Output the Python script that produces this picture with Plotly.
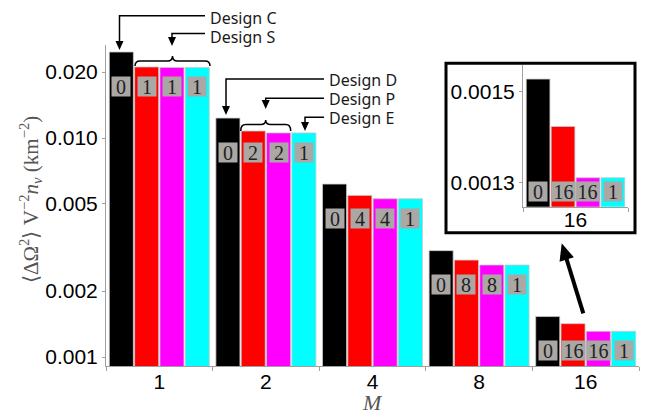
import math
import plotly.graph_objects as go

# ---- data ----
M_labels = ["1", "2", "4", "8", "16"]
design_black = [0.0247, 0.01233, 0.00616, 0.00306, 0.00153]
design_red = [0.0211, 0.01076, 0.00547, 0.00277, 0.00142]
design_magenta = [0.0210, 0.01055, 0.00528, 0.00263, 0.00131]
design_cyan = [0.0210, 0.01055, 0.00528, 0.00263, 0.00131]
count_black = [0, 0, 0, 0, 0]
count_red = [1, 2, 4, 8, 16]
count_magenta = [1, 2, 4, 8, 16]
count_cyan = [1, 1, 1, 1, 1]
y_tickvals = [0.001, 0.002, 0.005, 0.01, 0.02]
y_ticktext = ["0.001", "0.002", "0.005", "0.010", "0.020"]
inset_tickvals = [0.0013, 0.0015]
inset_ticktext = ["0.0013", "0.0015"]

series = [
    (design_black, count_black, "black"),
    (design_red, count_red, "#ff0000"),
    (design_magenta, count_magenta, "#ff00ff"),
    (design_cyan, count_cyan, "#00ffff"),
]

W, H = 651, 416
L, R, T, B = 106, 12, 45, 50
PW, PH = W - L - R, H - T - B


def PX(x):
    return (x - L) / PW


def PY(y):
    return (H - B - y) / PH


def P(x, y):
    return f"{PX(x):.5f},{PY(y):.5f}"


fig = go.Figure()
BARGAP = 0.05
for vals, cnts, col in series:
    fig.add_trace(go.Bar(x=M_labels, y=vals, marker=dict(color=col, line=dict(color="#c8c8c8", width=0.8)),
                         showlegend=False, hoverinfo="skip"))
# inset
for vals, cnts, col in series:
    fig.add_trace(go.Bar(x=[M_labels[-1]], y=[vals[-1]], xaxis="x2", yaxis="y2",
                         marker=dict(color=col, line=dict(color="#c8c8c8", width=0.8)),
                         showlegend=False, hoverinfo="skip"))

annotations = []
slot = (1 - BARGAP) / 4
label_bg = "#aaa7a5"
for i in range(len(M_labels)):
    gmin = min(s[0][i] for s in series)
    for j, (vals, cnts, col) in enumerate(series):
        txt = str(cnts[i])
        annotations.append(dict(
            x=i + (j - 1.5) * slot, y=math.log10(gmin), xref="x", yref="y",
            text=txt, showarrow=False, xanchor="center", yanchor="top", yshift=-9,
            font=dict(family="Liberation Serif", size=20, color="#222"),
            bgcolor=label_bg, borderpad=1, width=16 if len(txt) == 1 else 21, height=17))
# inset labels
gmin = min(s[0][-1] for s in series)
for j, (vals, cnts, col) in enumerate(series):
    txt = str(cnts[-1])
    annotations.append(dict(
        x=(j - 1.5) * slot, y=math.log10(gmin), xref="x2", yref="y2",
        text=txt, showarrow=False, xanchor="center", yanchor="top", yshift=-3,
        font=dict(family="Liberation Serif", size=20, color="#222"),
        bgcolor=label_bg, borderpad=1, width=16 if len(txt) == 1 else 21, height=17))

# axis titles
annotations.append(dict(
    x=PX(30), y=PY(200), xref="paper", yref="paper", showarrow=False, textangle=-90,
    xanchor="center", yanchor="middle",
    text="⟨ΔΩ<sup>2</sup>⟩ V<sup>−2</sup><i>n<sub>v</sub></i> (km<sup>−2</sup>)",
    font=dict(family="Liberation Serif", size=21, color="#555")))
annotations.append(dict(
    x=PX(372), y=PY(403), xref="paper", yref="paper", showarrow=False,
    xanchor="center", yanchor="middle",
    text="<i>M</i>", font=dict(family="Liberation Serif", size=22, color="#555")))

# callout texts
callouts = [("Design C", 208, 18), ("Design S", 208, 36.5), ("Design D", 327, 80.5),
            ("Design P", 327, 99.5), ("Design E", 327, 118.5)]
for txt, x, y in callouts:
    annotations.append(dict(x=PX(x), y=PY(y), xref="paper", yref="paper", showarrow=False,
                            xanchor="left", yanchor="middle", text=txt,
                            font=dict(family="Noto Sans", size=16, color="#1a1a1a")))

shapes = []
LINE = dict(color="black", width=1.5)


def arrow_head(xt, yt, dx, dy, length=9, half=4):
    bx, by = xt - dx * length, yt - dy * length
    px_, py_ = -dy, dx
    return (f"M {P(xt, yt)} L {P(bx + px_ * half, by + py_ * half)} "
            f"L {P(bx - px_ * half, by - py_ * half)} Z")


def elbow(x_text, y_line, x_down, y_tip):
    shapes.append(dict(type="path", xref="paper", yref="paper", line=LINE,
                       path=f"M {P(x_text, y_line)} L {P(x_down, y_line)} L {P(x_down, y_tip - 7)}"))
    shapes.append(dict(type="path", xref="paper", yref="paper", line=dict(width=0),
                       fillcolor="black", path=arrow_head(x_down, y_tip, 0, 1)))


def brace(x0, x1, y_end, y_line, y_tip, r=5):
    xm = (x0 + x1) / 2
    path = (f"M {P(x0, y_end)} Q {P(x0, y_line)} {P(x0 + r, y_line)} "
            f"L {P(xm - r, y_line)} Q {P(xm, y_line)} {P(xm, y_tip)} "
            f"Q {P(xm, y_line)} {P(xm + r, y_line)} L {P(x1 - r, y_line)} "
            f"Q {P(x1, y_line)} {P(x1, y_end)}")
    shapes.append(dict(type="path", xref="paper", yref="paper", line=LINE, path=path))


elbow(205, 15.7, 119.5, 50)
elbow(205, 33.5, 172, 46)
brace(135, 210, 66, 61, 56)
elbow(324, 79, 226, 115)
elbow(324, 98.3, 265.7, 109)
brace(240.7, 290.7, 131, 124.5, 120)
elbow(324, 117.3, 305, 131)

# big arrow to inset
tx, ty = 561.7, 243.3
sx, sy = 583.3, 313.3
dl = math.hypot(tx - sx, ty - sy)
ux, uy = (tx - sx) / dl, (ty - sy) / dl
shapes.append(dict(type="path", xref="paper", yref="paper", line=dict(color="black", width=4),
                   path=f"M {P(sx, sy)} L {P(tx - ux * 12, ty - uy * 12)}"))
shapes.append(dict(type="path", xref="paper", yref="paper", line=dict(width=0), fillcolor="black",
                   path=arrow_head(tx, ty, ux, uy, length=17, half=7.5)))

# inset box
shapes.append(dict(type="rect", xref="paper", yref="paper", x0=PX(446), x1=PX(635),
                   y0=PY(232.7), y1=PY(63.3), line=dict(color="black", width=3), layer="above"))

ymin = -3 - 9 / 219
ymax = -3 + 312 / 219
common = dict(showline=True, linecolor="#a0a0a0", linewidth=1, ticks="outside", tickcolor="#a0a0a0",
              showgrid=False, zeroline=False, automargin=False,
              tickfont=dict(family="Liberation Sans", size=21, color="black"))
fig.update_layout(
    width=W, height=H, margin=dict(l=L, r=R, t=T, b=B, autoexpand=False),
    paper_bgcolor="white", plot_bgcolor="white",
    barmode="group", bargap=BARGAP, bargroupgap=0.05,
    annotations=annotations, shapes=shapes,
    xaxis=dict(type="category", range=[-0.5, 4.5], tickson="boundaries", ticklen=4,
               ticklabelstandoff=-3, **common),
    yaxis=dict(type="log", range=[ymin, ymax], ticklen=3, tickvals=y_tickvals, ticktext=y_ticktext, **common),
    xaxis2=dict(type="category", domain=[PX(523), PX(628)], anchor="y2", range=[-0.5, 0.5],
                tickson="boundaries", ticklen=4, ticklabelstandoff=-6, **common),
    yaxis2=dict(type="log", domain=[PY(206.7), PY(65)], anchor="x2", range=[-2.9025, -2.8057],
                ticklen=3, tickvals=inset_tickvals, ticktext=inset_ticktext, **common),
)

fig.write_html("out.html", config={"displayModeBar": False},
               post_script="document.body.style.margin='0';document.body.style.overflow='hidden';")
